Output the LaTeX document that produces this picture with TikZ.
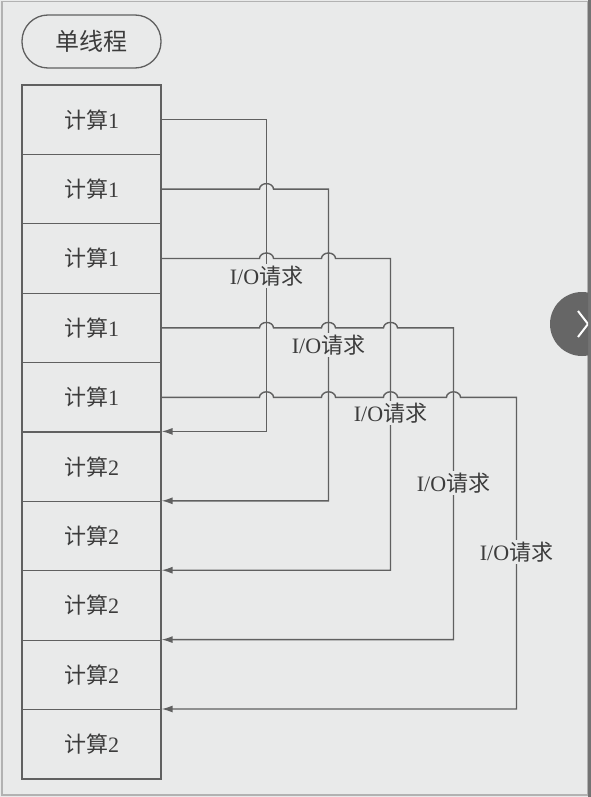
\documentclass[tikz,border=0pt]{standalone}
\usepackage{fontspec}
\setmainfont{Liberation Serif}
\newfontfamily\cjk{Noto Sans CJK SC}
\usetikzlibrary{arrows.meta,calc}
\definecolor{bg}{HTML}{E9EAEA}
\definecolor{ln}{HTML}{606060}
\definecolor{tx}{HTML}{3C3C3C}
\begin{document}
\begin{tikzpicture}[x=1pt,y=1pt,
  box/.style={draw=ln, line width=1.2pt, fill=bg, minimum width=139pt, minimum height=69.4pt, inner sep=0pt, text=tx, font=\fontsize{22}{22}\selectfont},
  pill/.style={draw=ln, line width=1.3pt, rounded corners=26pt, minimum width=139pt, minimum height=53pt, text=tx, font=\fontsize{24}{24}\selectfont},
  lbl/.style={fill=bg, inner sep=1.5pt, text=tx, font=\fontsize{22}{22}\selectfont},
  wire/.style={draw=ln, line width=1.4pt},
  tip/.style={-{Latex[length=11pt,width=7pt]}}]
\useasboundingbox (0,0) rectangle (591,-797);
\fill[bg] (0,0) rectangle (591,-797);
\draw[gray!60, line width=1.2pt] (2,-1.5) rectangle (588,-795);
\draw[gray!90!black, line width=2.5pt] (589.5,0) -- (589.5,-797);

\node[pill] (title) at (91.5,-41.5) {\cjk 单线程};

\foreach \k in {1,...,5} \node[box] (b\k) at (91.5, {-85-69.4*(\k-0.5)}) {{\cjk 计算}1};
\foreach \k in {6,...,10} \node[box] (b\k) at (91.5, {-85-69.4*(\k-0.5)}) {{\cjk 计算}2};

\coordinate (col1) at (266.5,0);
\coordinate (col2) at (328.5,0);
\coordinate (col3) at (390.5,0);
\coordinate (col4) at (453.5,0);
\coordinate (col5) at (516.5,0);

\def\hp{arc[start angle=180,end angle=0,x radius=7,y radius=5.5]}

\draw[wire, tip] (b1.east) -- (b1.east -| col1) |- (b6.north east);
\draw[wire, tip] (b2.east) -- ($(b2.east -| col1)+(-7,0)$) \hp
  -- (b2.east -| col2) |- (b7.north east);
\draw[wire, tip] (b3.east) -- ($(b3.east -| col1)+(-7,0)$) \hp
  -- ($(b3.east -| col2)+(-7,0)$) \hp
  -- (b3.east -| col3) |- (b8.north east);
\draw[wire, tip] (b4.east) -- ($(b4.east -| col1)+(-7,0)$) \hp
  -- ($(b4.east -| col2)+(-7,0)$) \hp
  -- ($(b4.east -| col3)+(-7,0)$) \hp
  -- (b4.east -| col4) |- (b9.north east);
\draw[wire, tip] (b5.east) -- ($(b5.east -| col1)+(-7,0)$) \hp
  -- ($(b5.east -| col2)+(-7,0)$) \hp
  -- ($(b5.east -| col3)+(-7,0)$) \hp
  -- ($(b5.east -| col4)+(-7,0)$) \hp
  -- (b5.east -| col5) |- (b10.north east);

\node[lbl] (q1) at (266.5,-276) {I/O{\cjk 请求}};
\node[lbl] (q2) at (328.5,-345) {I/O{\cjk 请求}};
\node[lbl] (q3) at (390.5,-413) {I/O{\cjk 请求}};
\node[lbl] (q4) at (453.5,-483) {I/O{\cjk 请求}};
\node[lbl] (q5) at (516.5,-552) {I/O{\cjk 请求}};

\begin{scope}
\clip (0,0) rectangle (588,-797);
\fill[gray!80!black] (582,-324) circle[radius=32];
\draw[white, line width=2pt] (578,-311) -- (588,-324) -- (578,-337);
\end{scope}
\end{tikzpicture}
\end{document}
